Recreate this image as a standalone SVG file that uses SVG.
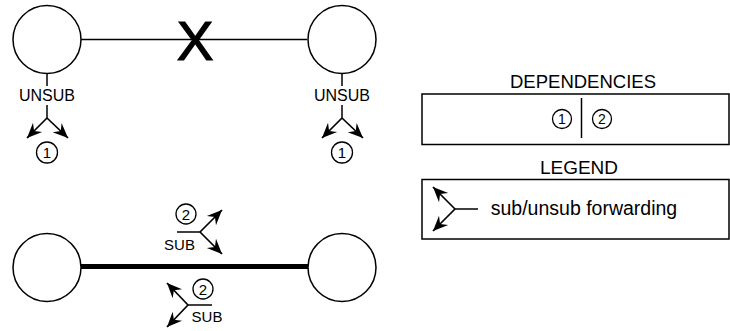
<svg xmlns="http://www.w3.org/2000/svg" width="730" height="331" viewBox="0 0 730 331">
  <defs>
    <marker id="barb" viewBox="-16 -8 17 16" markerWidth="17" markerHeight="16" refX="0" refY="0" orient="auto" markerUnits="userSpaceOnUse">
      <path d="M0,0 L-15,-6.5 L-10,0 L-15,6.5 Z" fill="#000"/>
    </marker>
    <style>
      .node { fill: #fff; stroke: #000; stroke-width: 1.5; }
      .ln { stroke: #000; stroke-width: 1.5; fill: none; }
      .arr { stroke: #000; stroke-width: 1.7; fill: none; marker-end: url(#barb); }
      .lbl { font-family: "Liberation Sans", Arial, sans-serif; fill: #000; text-anchor: middle; }
      .tag { fill: #fff; stroke: #000; stroke-width: 1.3; }
      .box { fill: #fff; stroke: #000; stroke-width: 1.5; }
    </style>
  </defs>

  <!-- connectors -->
  <g id="connectors">
    <line class="ln" x1="81" y1="39.5" x2="307" y2="39.5"/>
    <line x1="81" y1="266.5" x2="308" y2="266.5" stroke="#000" stroke-width="5"/>

    <!-- unsub forwarding below the top nodes -->
    <line class="ln" x1="47" y1="73" x2="47" y2="86"/>
    <line class="ln" x1="47" y1="105" x2="47" y2="118"/>
    <line class="arr" x1="47" y1="118" x2="27" y2="138"/>
    <line class="arr" x1="47" y1="118" x2="68" y2="138"/>

    <line class="ln" x1="342" y1="73" x2="342" y2="86"/>
    <line class="ln" x1="342" y1="105" x2="342" y2="118"/>
    <line class="arr" x1="342" y1="118" x2="322" y2="138"/>
    <line class="arr" x1="342" y1="118" x2="363" y2="138"/>

    <!-- sub forwarding along the bottom link -->
    <line class="ln" x1="177" y1="232" x2="200" y2="232"/>
    <line class="arr" x1="200" y1="232" x2="222" y2="210"/>
    <line class="arr" x1="200" y1="232" x2="222" y2="254"/>

    <line class="ln" x1="188" y1="305" x2="212" y2="305"/>
    <line class="arr" x1="188" y1="305" x2="167" y2="283"/>
    <line class="arr" x1="188" y1="305" x2="167" y2="327"/>
  </g>

  <!-- nodes -->
  <g id="node-top-left"><circle class="node" cx="47" cy="39.5" r="34"/></g>
  <g id="node-top-right"><circle class="node" cx="342" cy="39.5" r="34"/></g>
  <g id="node-bottom-left"><circle class="node" cx="47" cy="267.5" r="34"/></g>
  <g id="node-bottom-right"><circle class="node" cx="342" cy="267.5" r="34"/></g>

  <!-- broken link mark -->
  <text class="lbl" x="195" y="60" font-size="55" stroke="#000" stroke-width="1.2">X</text>

  <!-- labels -->
  <text class="lbl" x="47" y="101" font-size="16">UNSUB</text>
  <text class="lbl" x="342" y="101" font-size="16">UNSUB</text>

  <g id="dep-1-left">
    <circle class="tag" cx="47" cy="152.5" r="10.5"/>
    <text class="lbl" x="47" y="158" font-size="15">1</text>
  </g>
  <g id="dep-1-right">
    <circle class="tag" cx="342" cy="152.5" r="10.5"/>
    <text class="lbl" x="342" y="158" font-size="15">1</text>
  </g>

  <g id="dep-2-upper">
    <circle class="tag" cx="186" cy="214" r="10"/>
    <text class="lbl" x="186" y="219.5" font-size="15">2</text>
    <text class="lbl" x="179.5" y="250" font-size="15">SUB</text>
  </g>
  <g id="dep-2-lower">
    <circle class="tag" cx="203" cy="289" r="10"/>
    <text class="lbl" x="203" y="294.5" font-size="15">2</text>
    <text class="lbl" x="207" y="322" font-size="15">SUB</text>
  </g>

  <!-- dependencies panel -->
  <g id="dependencies">
    <text class="lbl" x="583" y="88" font-size="18.5">DEPENDENCIES</text>
    <rect class="box" x="422" y="94" width="307" height="50.5"/>
    <line class="ln" x1="581.5" y1="98" x2="581.5" y2="138"/>
    <circle class="tag" cx="562" cy="119" r="9.5"/>
    <text class="lbl" x="562" y="124" font-size="14">1</text>
    <circle class="tag" cx="602" cy="119" r="9.5"/>
    <text class="lbl" x="602" y="124" font-size="14">2</text>
  </g>

  <!-- legend panel -->
  <g id="legend">
    <text class="lbl" x="579" y="174" font-size="19">LEGEND</text>
    <rect class="box" x="422" y="179.5" width="307" height="59.5"/>
    <line class="ln" x1="455" y1="209" x2="478" y2="209"/>
    <line class="arr" x1="455" y1="209" x2="433" y2="187"/>
    <line class="arr" x1="455" y1="209" x2="433" y2="231"/>
    <text class="lbl" x="584" y="215" font-size="19.5">sub/unsub forwarding</text>
  </g>
</svg>
